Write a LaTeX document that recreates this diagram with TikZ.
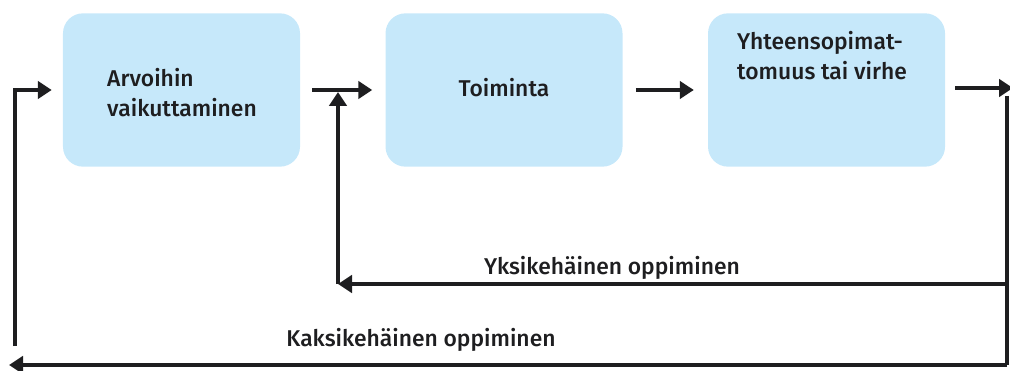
\documentclass[tikz,border=0pt]{standalone}
\usepackage{fontspec}
\setmainfont{Fira Sans Medium}
\usepackage{xcolor}
\usetikzlibrary{positioning, arrows.meta}
\definecolor{boxblue}{RGB}{198,232,250}
\definecolor{ink}{RGB}{30,30,32}

\begin{document}
\begin{tikzpicture}[x=0.03cm,y=-0.03cm,node distance=9.675cm,on grid,
    >={Triangle[length=0.42cm,width=0.52cm]},
    box/.style={rectangle,rounded corners=0.6cm,fill=boxblue,
      minimum width=7.11cm,minimum height=4.6cm},
    txt/.style={align=left,text=ink,font=\fontsize{19.5}{25.5}\selectfont},
    wire/.style={line width=3.4pt,draw=ink},
    flow/.style={wire,->}]
  \useasboundingbox (0,0) rectangle (1010,371);

  \node[box] (arvo) at (181.5,90) {};
  \node[box] (toim) [right=of arvo] {};
  \node[box] (virhe) [right=of toim] {};

  \node[txt] (arvoT) at (182,93) {Arvoihin\\vaikuttaminen};
  \node[txt] (toimT) at (504,88) {Toiminta};
  \node[txt] (virheT) at (822,56) {Yhteensopimat-\\tomuus tai virhe};

  \coordinate (rOut) at (1013,88);
  \coordinate (rTop) at (1007,96);
  \coordinate (rSingle) at (1007,284);
  \coordinate (rDouble) at (1007,365);
  \coordinate (mFoot) at (338,284);
  \coordinate (mHead) at (338,92);
  \coordinate (lEnd) at (9,365);
  \coordinate (lFoot) at (15,346);

  \draw[flow,shorten <=0.36cm,shorten >=0.39cm] (arvo) -- (toim);
  \draw[flow,shorten <=0.39cm,shorten >=0.42cm] (toim) -- (virhe);
  \draw[flow,shorten <=0.3cm] (virhe.east |- rOut) -- (rOut);
  \draw[wire] (rTop) -- (rDouble);
  \draw[flow] (rSingle) -- (mFoot);
  \draw[flow] (mFoot) -- (mHead);
  \draw[flow] (rDouble) -- (lEnd);
  \draw[flow,shorten >=0.33cm] (lFoot) |- (arvo);

  \node[txt] (single) at (612,268) {Yksikehäinen oppiminen};
  \node[txt] (double) at (421,340) {Kaksikehäinen oppiminen};
\end{tikzpicture}
\end{document}
